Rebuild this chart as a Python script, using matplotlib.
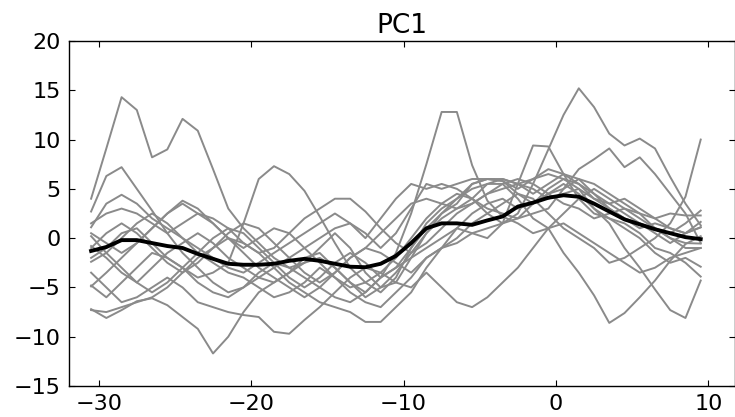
import matplotlib
matplotlib.use("Agg")
import matplotlib.pyplot as plt
import numpy as np

# time axis (same for every trace)
t = np.arange(-30.5, 10.0, 1.0)

# individual gray traces
pc_a = [4.0, 9.1, 14.3, 13.0, 8.2, 9.0, 12.1, 10.9, 7.0, 3.0, 1.0, -0.5, -2.0, -3.0, -2.5, -1.0, 0.5, -1.0, -3.5, -5.0,
        -4.5, -2.0, 0.5, 2.5, 3.5, 5.5, 6.0, 5.8, 4.5, 3.5, 4.5, 5.5, 4.5, 3.0, 2.0, 1.5, 0.5, -1.0, -1.5, -2.5, -3.9]
pc_b = [-0.8, -2.0, -3.5, -4.5, -3.0, -1.5, -0.5, 0.5, -0.5, -2.0, -3.0, -4.0, -4.5, -3.5, -2.0, -1.5, -3.0, -4.5, -5.5, -4.0,
        -1.5, 2.5, 7.5, 12.8, 12.8, 7.4, 3.8, 2.2, 1.5, 0.5, 1.0, 2.5, 4.0, 5.0, 4.0, 3.0, 2.5, 1.0, 0.0, -1.0, -1.0]
pc_c = [-2.4, -1.5, 0.0, 1.5, 2.5, 1.5, 0.0, -1.5, -2.5, -3.5, -4.0, -5.0, -6.0, -5.5, -4.5, -3.0, -4.0, -5.5, -6.5, -7.0,
        -5.5, -4.0, -2.0, -1.0, -0.5, 0.5, 1.0, 1.5, 2.5, 5.5, 9.0, 12.5, 15.2, 13.3, 10.6, 9.4, 10.1, 9.1, 6.2, 3.5, 1.3]
pc_d = [0.5, -0.5, -1.5, -0.5, 1.0, 2.5, 3.8, 3.0, 1.5, 0.0, -1.0, 0.0, 1.0, 0.5, -1.0, -2.5, -4.0, -5.0, -4.5, -3.5,
        -2.0, 0.0, 2.0, 3.5, 4.5, 4.0, 3.0, 2.5, 2.0, 2.5, 3.0, 5.0, 7.0, 8.0, 9.1, 7.2, 8.2, 6.5, 4.5, 2.5, -0.5]
pc_e = [-4.8, -6.0, -4.5, -3.0, -1.5, -2.0, -3.0, -4.5, -5.5, -6.0, -5.0, -3.5, -2.5, -3.0, -4.0, -5.0, -6.0, -6.5, -5.5, -4.0,
        -3.0, -2.0, -1.0, 0.0, 1.0, 0.5, 0.0, 1.5, 5.5, 9.4, 9.3, 6.5, 4.0, 2.5, 2.0, 1.0, 0.0, -1.5, -2.5, -2.0, -2.9]
pc_f = [-4.9, -3.5, -2.0, -0.5, 1.0, 2.5, 3.5, 2.5, 1.5, 0.0, -1.5, -3.0, -4.0, -5.0, -6.0, -5.0, -3.5, -2.0, -1.0, -1.5,
        -2.5, -3.5, -2.0, -1.0, 0.0, 1.5, 2.5, 3.5, 4.5, 4.0, 2.5, 1.0, 0.0, -1.0, -2.5, -2.0, -1.0, 0.0, 1.5, 4.2, 10.0]
pc_g = [-1.0, 0.5, 1.5, 0.5, -1.0, -2.5, -3.5, -2.5, -1.0, 0.5, 1.5, 1.0, -0.5, -2.0, -3.5, -4.5, -3.5, -2.0, -1.0, 0.5,
        2.0, 3.5, 4.0, 3.5, 3.0, 4.0, 5.5, 6.0, 5.5, 5.0, 4.0, 4.5, 5.0, 3.0, 1.5, -1.0, -3.0, -5.2, -7.3, -8.1, -4.3]
pc_h = [0.2, -1.5, -3.0, -4.5, -5.5, -4.5, -3.0, -1.5, 0.0, 1.0, 0.5, -1.0, -2.5, -4.0, -5.0, -4.0, -2.5, -1.5, -2.5, -4.0,
        -3.0, -1.0, 1.0, 2.5, 4.0, 5.0, 5.5, 5.5, 4.0, 2.0, 1.0, -1.5, -3.5, -5.8, -8.6, -7.6, -6.0, -4.3, -2.3, -0.6, 0.2]
pc_i = [-7.2, -8.1, -7.3, -6.4, -6.1, -6.8, -8.0, -9.2, -11.7, -10.0, -7.5, -5.5, -4.5, -3.5, -2.5, -2.0, -3.0, -4.5, -6.0, -5.0,
        -3.5, -1.5, 0.5, 2.0, 3.0, 3.5, 4.5, 5.5, 6.0, 5.5, 4.5, 3.5, 3.0, 2.0, 2.5, 3.0, 2.0, 1.0, 0.5, 1.5, 2.8]
pc_j = [-7.3, -7.5, -7.0, -6.5, -6.0, -5.0, -3.5, -2.0, -1.0, 0.0, -0.5, -1.5, -3.0, -4.5, -5.5, -6.5, -7.0, -7.5, -8.5, -8.5,
        -7.0, -5.5, -3.0, -1.0, 1.0, 2.5, 3.5, 4.0, 3.0, 3.5, 4.5, 5.0, 6.0, 5.5, 4.5, 3.5, 2.5, 2.0, 2.5, 2.3, 2.3]
pc_k = [-3.5, -5.0, -6.5, -6.0, -5.0, -4.0, -5.0, -6.5, -7.0, -7.5, -7.8, -8.0, -9.5, -9.7, -8.3, -7.0, -5.5, -4.0, -3.0, -3.5,
        -4.5, -5.0, -3.5, -5.0, -6.5, -7.0, -6.0, -4.5, -3.0, -1.0, 1.0, 1.5, 0.5, -0.5, -1.5, -2.5, -3.5, -3.0, -2.0, -1.5, -1.0]
pc_l = [1.5, 2.5, 3.0, 2.5, 1.5, 0.5, 1.5, 2.5, 2.0, 1.0, -0.5, -1.5, -1.0, 0.5, 2.0, 3.0, 4.0, 4.0, 2.7, 1.0,
        -0.5, -1.5, -0.5, 1.0, 2.5, 3.5, 4.5, 5.0, 5.5, 6.0, 6.5, 6.0, 5.5, 4.5, 3.5, 2.5, 1.5, 1.0, 0.0, -0.5, -0.55]
pc_m = [-2.0, -1.0, 0.5, 1.0, -0.5, -2.0, -3.0, -4.0, -3.5, -2.5, 1.5, 6.0, 7.3, 6.5, 4.8, 2.2, -0.5, -3.0, -4.5, -5.5,
        -4.0, -1.0, 1.5, 3.0, 4.0, 5.5, 6.0, 6.0, 5.5, 4.5, 5.5, 6.5, 5.5, 4.0, 3.0, 2.0, 1.0, 1.5, 1.0, 0.5, 1.1]
pc_n = [2.7, 6.3, 7.2, 5.0, 2.8, 0.5, -1.5, -3.0, -4.5, -5.5, -5.0, -4.0, -3.0, -2.0, -1.0, 0.0, 1.0, 1.5, 0.5, -1.0,
        0.5, 3.0, 5.5, 5.0, 5.5, 6.0, 6.0, 5.8, 5.0, 6.0, 7.0, 6.5, 6.0, 4.5, 3.0, 2.0, 1.5, 0.5, -0.5, 0.5, 1.65]
pc_o = [1.1, 3.5, 4.4, 3.5, 2.0, 1.0, 0.0, -1.0, -2.0, -3.0, -3.5, -2.5, -1.5, -0.5, 0.5, 1.5, 2.5, 1.5, 0.0, 2.0,
        4.0, 5.5, 5.0, 5.5, 5.0, 4.0, 2.5, 1.5, 2.0, 3.5, 5.0, 6.0, 5.0, 4.0, 3.5, 4.0, 3.0, 2.0, 1.0, 0.5, 1.1]

# the thick black average trace
pc_mean = [-1.3, -0.9, -0.2, -0.2, -0.5, -0.8, -1.0, -1.6, -2.1, -2.6, -2.7, -2.7, -2.6, -2.3, -2.1, -2.3, -2.6, -2.9, -2.95, -2.6,
           -1.8, -0.5, 1.0, 1.5, 1.5, 1.35, 1.8, 2.2, 3.2, 3.6, 4.1, 4.35, 4.2, 3.5, 2.7, 1.9, 1.4, 0.9, 0.5, 0.1, -0.1]

traces = [pc_a, pc_b, pc_c, pc_d, pc_e, pc_f, pc_g, pc_h, pc_i, pc_j, pc_k, pc_l, pc_m, pc_n, pc_o]

plt.rcParams.update({
    "font.family": "DejaVu Sans",
    "font.size": 16,
    "xtick.direction": "in",
    "ytick.direction": "in",
    "xtick.top": True,
    "ytick.right": True,
    "xtick.major.size": 4,
    "ytick.major.size": 4,
    "xtick.major.pad": 6,
    "ytick.major.pad": 6,
    "axes.linewidth": 1.0,
})

fig = plt.figure(figsize=(7.35, 4.17), dpi=100)
ax = fig.add_axes([69 / 735, 31 / 417, 666 / 735, 345 / 417])

for tr in traces:
    ax.plot(t, tr, color="#8a8a8a", lw=1.4)
ax.plot(t, pc_mean, color="black", lw=2.8)

ax.set_xlim(-31.95, 11.75)
ax.set_ylim(-15, 20)
ax.set_xticks([-30, -20, -10, 0, 10])
ax.set_yticks(np.arange(-15, 21, 5))
ax.set_title("PC1", fontsize=19, pad=6)

fig.savefig("out.png", dpi=100, facecolor="white")
